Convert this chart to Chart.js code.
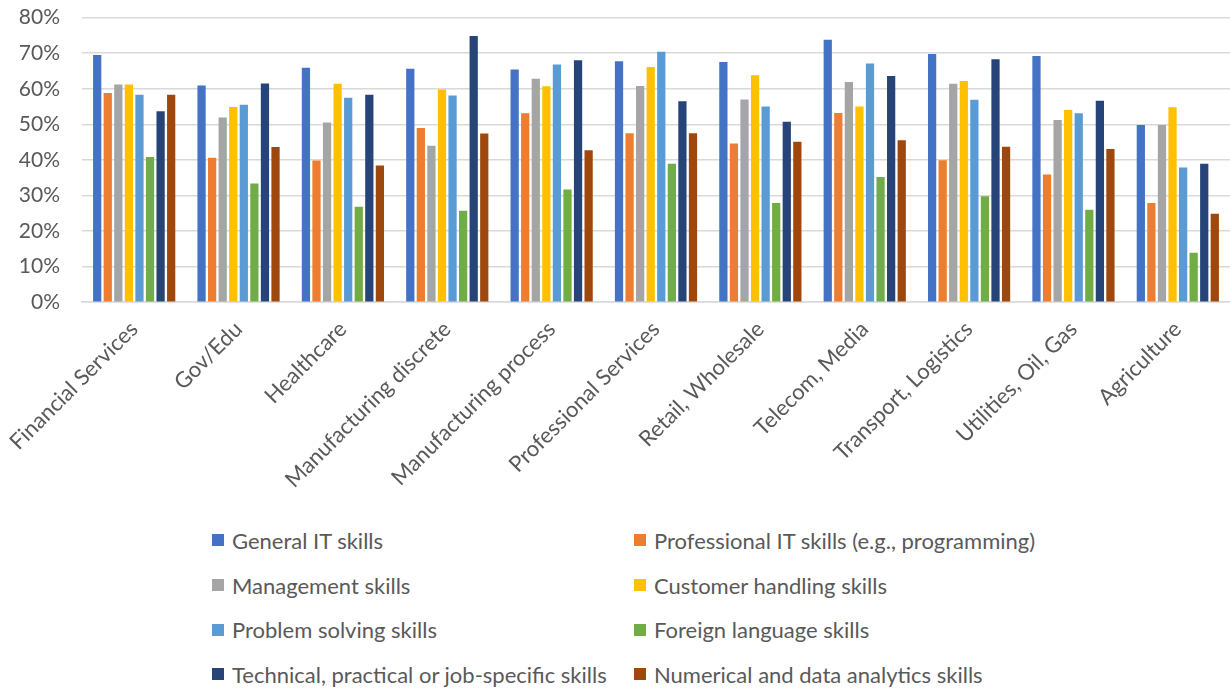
<!DOCTYPE html>
<html>
<head>
<meta charset="utf-8">
<script src="https://cdn.jsdelivr.net/npm/chart.js@4.4.1/dist/chart.umd.min.js"></script>
<style>
    body { margin: 0; background: #fff; font-family: Lato, sans-serif; overflow: hidden; }
    #wrap { position: relative; width: 1230px; height: 688px; overflow: hidden; }
    #box { position: absolute; left: 0; top: -17px; width: 1230px; height: 516px; }
    #legend {
        position: absolute; left: 212px; top: 518px;
        display: grid; grid-template-columns: 422px 420px;
        grid-auto-rows: 44.7px; color: #595959; font-size: 22px;
    }
    .item { display: flex; align-items: center; white-space: nowrap; }
    .swatch { width: 12px; height: 12px; margin-right: 8px; }
</style>
</head>
<body>
<div id="wrap">
    <div id="box"><canvas id="skills"></canvas></div>
    <div id="legend"></div>
</div>
<script>
// sectors on the x axis
const sectors = [
    "Financial Services", "Gov/Edu", "Healthcare", "Manufacturing discrete",
    "Manufacturing process", "Professional Services", "Retail, Wholesale",
    "Telecom, Media", "Transport, Logistics", "Utilities, Oil, Gas", "Agriculture"
];

const skillNames = [
    "General IT skills", "Professional IT skills (e.g., programming)",
    "Management skills", "Customer handling skills",
    "Problem solving skills", "Foreign language skills",
    "Technical, practical or job-specific skills", "Numerical and data analytics skills"
];

const skillColors = ["#4472C4", "#ED7D31", "#A5A5A5", "#FFC000", "#5B9BD5", "#70AD47", "#264478", "#9E480E"];

// percentages per skill, one value per sector
const generalIT     = [69.5, 60.9, 65.9, 65.6, 65.4, 67.7, 67.5, 73.8, 69.8, 69.2, 49.8];
const professionalIT = [58.8, 40.6, 39.8, 49.0, 53.1, 47.5, 44.6, 53.2, 39.9, 35.9, 27.9];
const management    = [61.2, 51.9, 50.5, 44.0, 62.8, 60.8, 57.0, 61.9, 61.4, 51.2, 49.8];
const customer      = [61.2, 54.9, 61.4, 59.8, 60.7, 66.1, 63.8, 55.0, 62.2, 54.0, 54.8];
const problemSolving = [58.3, 55.5, 57.5, 58.1, 66.8, 70.4, 55.0, 67.1, 56.9, 53.1, 37.9];
const foreignLang   = [40.8, 33.4, 26.8, 25.7, 31.7, 38.9, 27.9, 35.2, 29.8, 26.0, 13.9];
const technical     = [53.7, 61.5, 58.3, 74.8, 68.0, 56.5, 50.7, 63.6, 68.3, 56.6, 38.9];
const numerical     = [58.3, 43.6, 38.4, 47.4, 42.7, 47.5, 45.1, 45.5, 43.7, 43.1, 24.9];

const yTicks = [0, 10, 20, 30, 40, 50, 60, 70, 80];

const series = [generalIT, professionalIT, management, customer, problemSolving, foreignLang, technical, numerical];

const datasets = series.map((values, i) => ({
    label: skillNames[i],
    data: values,
    backgroundColor: skillColors[i],
    barPercentage: 0.78,
    categoryPercentage: 0.81,
}));

const textColor = "#595959";

const chart = new Chart(document.getElementById("skills"), {
    type: "bar",
    data: { labels: sectors, datasets: datasets },
    options: {
        responsive: true,
        maintainAspectRatio: false,
        animation: false,
        layout: { padding: { top: 6, right: 0, left: 0, bottom: 0 } },
        plugins: {
            legend: { display: false },
            tooltip: { enabled: false },
        },
        scales: {
            x: {
                grid: { display: false },
                border: { color: "#d9d9d9", width: 1.5 },
                ticks: {
                    color: textColor,
                    font: { family: "Lato", size: 22 },
                    minRotation: 45,
                    maxRotation: 45,
                    padding: 6,
                },
            },
            y: {
                min: 0,
                max: 80,
                afterBuildTicks: (scale) => {
                    scale.ticks = yTicks.map((v) => ({ value: v }));
                },
                afterFit: (scale) => {
                    scale.width = 82;
                },
                grid: { color: "#d9d9d9", lineWidth: 1.5, drawTicks: false },
                border: { display: false },
                ticks: {
                    color: textColor,
                    font: { family: "Lato", size: 21 },
                    padding: 22,
                    callback: (v) => v + "%",
                },
            },
        },
    },
});

// two-column legend, built from the chart's own datasets
const legend = document.getElementById("legend");
chart.data.datasets.forEach((ds) => {
    const item = document.createElement("div");
    item.className = "item";
    const sw = document.createElement("span");
    sw.className = "swatch";
    sw.style.background = ds.backgroundColor;
    item.appendChild(sw);
    item.appendChild(document.createTextNode(ds.label));
    legend.appendChild(item);
});
</script>
</body>
</html>
